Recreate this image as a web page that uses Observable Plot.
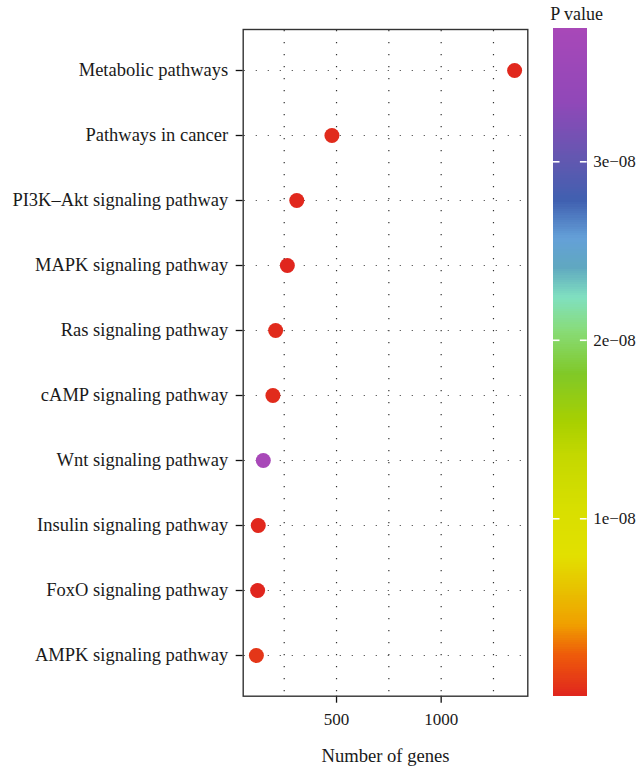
<!DOCTYPE html>
<html><head><meta charset="utf-8">
<script src="https://cdn.jsdelivr.net/npm/d3@7"></script>
<script src="https://cdn.jsdelivr.net/npm/@observablehq/plot@0.6"></script>
<style>
body{margin:0;background:#fff;}
#wrap{display:flex;flex-direction:row;width:639px;height:769px;}
</style></head><body><div id="wrap"><div id="main"></div><div id="legend"></div></div>
<script>
const pathways = ["Metabolic pathways","Pathways in cancer","PI3K\u2013Akt signaling pathway","MAPK signaling pathway","Ras signaling pathway","cAMP signaling pathway","Wnt signaling pathway","Insulin signaling pathway","FoxO signaling pathway","AMPK signaling pathway"];
const geneCounts = [1351, 478, 310, 265, 209, 196, 150, 126, 123, 117];
const pValues = [2e-10, 3e-10, 2e-10, 1e-10, 3e-10, 3e-10, 3.745e-8, 2e-10, 1e-10, 8e-10];
const xTicks = [500, 1000];
const xGrid = [250, 500, 750, 1000, 1250];
const legendTicks = [1e-8, 2e-8, 3e-8];

// colour gradient (fraction of P value range -> colour)
const gradT = [0, 0.06, 0.107, 0.157, 0.21, 0.28, 0.36, 0.41, 0.483, 0.547, 0.597, 0.642, 0.686, 0.742, 0.80, 0.889, 1];
const gradC = ["#e0261e","#ee5a0a","#f0a000","#e8c000","#e2e000","#d8df00","#c4d800","#a8d000","#80c828","#88dc78","#80e0c0","#60a8c0","#64a0d8","#4060b0","#6058b0","#9048b8","#a848b8"];

const pMin = d3.min(pValues), pMax = d3.max(pValues);
const colorScale = {type: "linear", domain: gradT.map(t => pMin + t * (pMax - pMin)), range: gradC, interpolate: "rgb"};
const data = pathways.map((p, i) => ({pathway: p, genes: geneCounts[i], p: pValues[i]}));
const FONT = "Liberation Serif";

const main = Plot.plot({
  width: 540, height: 769,
  marginLeft: 242.7, marginRight: 12.7, marginTop: 29, marginBottom: 73.3,
  style: {fontFamily: FONT, fontSize: "17px", color: "#1a1a1a", background: "white"},
  x: {domain: [54, 1414]},
  y: {type: "point", domain: pathways, padding: 0.6},
  color: colorScale,
  marks: [
    Plot.ruleX(xGrid, {stroke: "#333", strokeWidth: 1.2, strokeDasharray: "1.2 10.8", strokeDashoffset: -1}),
    Plot.ruleY(pathways, {stroke: "#555", strokeWidth: 1.2, strokeDasharray: "1.2 10.8", strokeDashoffset: -1}),
    Plot.axisY({tickSize: 7, tickPadding: 8, fontSize: 18.5, label: null, stroke: "#111", strokeWidth: 1.3, fill: "#1a1a1a"}),
    Plot.axisX({ticks: xTicks, tickFormat: d3.format("d"), tickSize: 7, tickPadding: 10, fontSize: 17, label: null, stroke: "#111", strokeWidth: 1.3, fill: "#1a1a1a"}),
    Plot.text(["Number of genes"], {frameAnchor: "bottom", dy: 66, lineAnchor: "bottom", text: d => d, fontSize: 18.6, fill: "#1a1a1a"}),
    Plot.frame({stroke: "#333", strokeWidth: 1.4}),
    Plot.dot(data, {x: "genes", y: "pathway", fill: "p", r: 7.5})
  ]
});
document.getElementById("main").appendChild(main);

function fmtSci(d) {
  const [m, e] = d.toExponential(0).split("e");
  const n = +e;
  return m + "e" + (n < 0 ? "\u2212" : "+") + String(Math.abs(n)).padStart(2, "0");
}

const N = 300;
const slices = d3.range(N).map(i => ({
  y1: pMin + (pMax - pMin) * i / N,
  y2: pMin + (pMax - pMin) * (i + 1) / N,
  v: pMin + (pMax - pMin) * (i + 0.5) / N
}));

const legend = Plot.plot({
  width: 99, height: 769,
  marginLeft: 12.7, marginRight: 52.3, marginTop: 28.3, marginBottom: 74,
  style: {fontFamily: FONT, fontSize: "17px", color: "#1a1a1a", background: "white", overflow: "visible"},
  x: {domain: [0, 1], axis: null},
  y: {domain: [pMin, pMax], axis: null},
  color: colorScale,
  marks: [
    Plot.rect(slices, {x1: 0, x2: 1, y1: "y1", y2: "y2", fill: "v", shapeRendering: "crispEdges", insetTop: -0.5, insetBottom: -0.5}),
    Plot.ruleY(legendTicks, {y: d => d, x1: 0, x2: 0.2, stroke: "white", strokeWidth: 1.6}),
    Plot.ruleY(legendTicks, {y: d => d, x1: 0.8, x2: 1, stroke: "white", strokeWidth: 1.6}),
    Plot.text(legendTicks, {x: 1, y: d => d, dx: 6, text: fmtSci, textAnchor: "start", fontSize: 17, fill: "#1a1a1a"}),
    Plot.text(["P value"], {frameAnchor: "top-left", dx: -3, dy: -9, lineAnchor: "bottom", text: d => d, fontSize: 18, fill: "#1a1a1a"})
  ]
});
document.getElementById("legend").appendChild(legend);
</script>
</body></html>
